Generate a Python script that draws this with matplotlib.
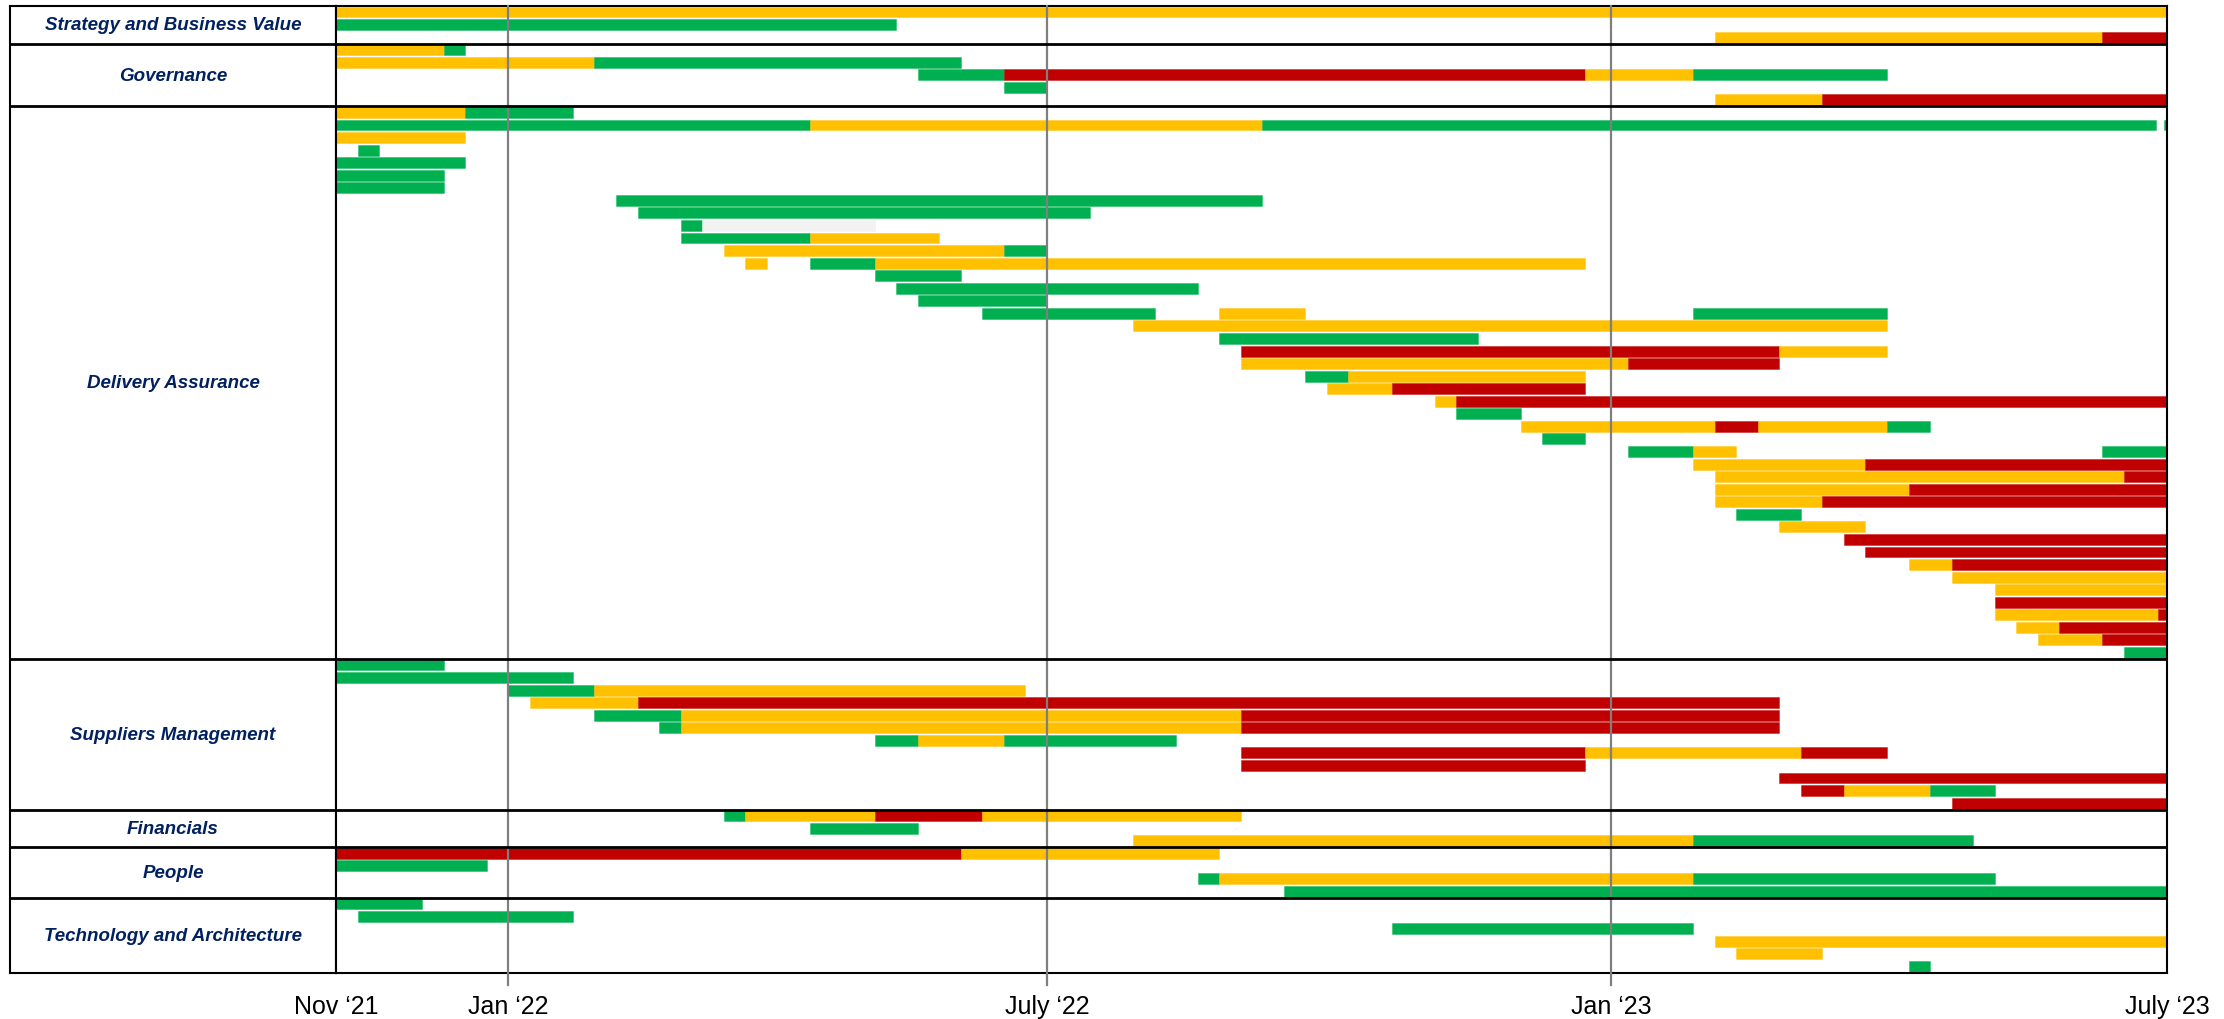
import matplotlib.pyplot as plt
from matplotlib.colors import to_rgba

plt.rcParams['font.family'] = ['Liberation Sans', 'DejaVu Sans']

# RAG status colours
status_colors = {'G': '#00B050', 'A': '#FFC000', 'R': '#C00000', 'N': '#F2F2F2'}

section_names = ['Strategy and Business Value', 'Governance', 'Delivery Assurance',
                 'Suppliers Management', 'Financials', 'People',
                 'Technology and Architecture']

# x axis in weeks from Nov '21
tick_pos = [0, 8, 33, 59.2, 85]
tick_labels = ['Nov \u201821', 'Jan \u201822', 'July \u201822', 'Jan \u201823', 'July \u201823']
grid_pos = [8, 33, 59.2]

# each row: list of (start, end, status)
strategy = [
    [(0, 85, 'A')],
    [(0, 26, 'G')],
    [(64, 82, 'A'), (82, 85, 'R')],
]

governance = [
    [(0, 5, 'A'), (5, 6, 'G')],
    [(0, 12, 'A'), (12, 29, 'G')],
    [(27, 31, 'G'), (31, 58, 'R'), (58, 63, 'A'), (63, 72, 'G')],
    [(31, 33, 'G')],
    [(64, 69, 'A'), (69, 85, 'R')],
]

delivery = [
    [(0, 6, 'A'), (6, 11, 'G')],
    [(0, 22, 'G'), (22, 43, 'A'), (43, 84.5, 'G'), (84.85, 85, 'G')],
    [(0, 6, 'A')],
    [(1, 2, 'G')],
    [(0, 6, 'G')],
    [(0, 5, 'G')],
    [(0, 5, 'G')],
    [(13, 43, 'G')],
    [(14, 35, 'G')],
    [(16, 17, 'G'), (17, 25, 'N')],
    [(16, 22, 'G'), (22, 28, 'A')],
    [(18, 31, 'A'), (31, 33, 'G')],
    [(19, 20, 'A'), (22, 25, 'G'), (25, 58, 'A')],
    [(25, 29, 'G')],
    [(26, 40, 'G')],
    [(27, 33, 'G')],
    [(30, 38, 'G'), (41, 45, 'A'), (63, 72, 'G')],
    [(37, 72, 'A')],
    [(41, 53, 'G')],
    [(42, 67, 'R'), (67, 72, 'A')],
    [(42, 60, 'A'), (60, 67, 'R')],
    [(45, 47, 'G'), (47, 58, 'A')],
    [(46, 49, 'A'), (49, 58, 'R')],
    [(51, 52, 'A'), (52, 85, 'R')],
    [(52, 55, 'G')],
    [(55, 64, 'A'), (64, 66, 'R'), (66, 72, 'A'), (72, 74, 'G')],
    [(56, 58, 'G')],
    [(60, 63, 'G'), (63, 65, 'A'), (82, 85, 'G')],
    [(63, 71, 'A'), (71, 85, 'R')],
    [(64, 83, 'A'), (83, 85, 'R')],
    [(64, 73, 'A'), (73, 85, 'R')],
    [(64, 69, 'A'), (69, 85, 'R')],
    [(65, 68, 'G')],
    [(67, 71, 'A')],
    [(70, 85, 'R')],
    [(71, 85, 'R')],
    [(73, 75, 'A'), (75, 85, 'R')],
    [(75, 85, 'A')],
    [(77, 85, 'A')],
    [(77, 85, 'R')],
    [(77, 84.6, 'A'), (84.6, 85, 'R')],
    [(78, 80, 'A'), (80, 85, 'R')],
    [(79, 82, 'A'), (82, 85, 'R')],
    [(83, 85, 'G')],
]

suppliers = [
    [(0, 5, 'G')],
    [(0, 11, 'G')],
    [(8, 12, 'G'), (12, 32, 'A')],
    [(9, 14, 'A'), (14, 67, 'R')],
    [(12, 16, 'G'), (16, 42, 'A'), (42, 67, 'R')],
    [(15, 16, 'G'), (16, 42, 'A'), (42, 67, 'R')],
    [(25, 27, 'G'), (27, 31, 'A'), (31, 39, 'G')],
    [(42, 58, 'R'), (58, 68, 'A'), (68, 72, 'R')],
    [(42, 58, 'R')],
    [(67, 85, 'R')],
    [(68, 70, 'R'), (70, 74, 'A'), (74, 77, 'G')],
    [(75, 85, 'R')],
]

financials = [
    [(18, 19, 'G'), (19, 25, 'A'), (25, 30, 'R'), (30, 42, 'A')],
    [(22, 27, 'G')],
    [(37, 63, 'A'), (63, 76, 'G')],
]

people = [
    [(0, 29, 'R'), (29, 41, 'A')],
    [(0, 7, 'G')],
    [(40, 41, 'G'), (41, 63, 'A'), (63, 77, 'G')],
    [(44, 85, 'G')],
]

technology = [
    [(0, 4, 'G')],
    [(1, 11, 'G')],
    [(49, 63, 'G')],
    [(64, 85, 'A')],
    [(65, 69, 'A')],
    [(73, 74, 'G')],
]

all_sections = [strategy, governance, delivery, suppliers, financials, people, technology]
n_rows = sum(len(s) for s in all_sections)

W, H = 2224, 1020
fig = plt.figure(figsize=(W / 100, H / 100), dpi=100)
bottom = 46 / H
height = 967 / H
ax_lab = fig.add_axes([10 / W, bottom, 326 / W, height])
ax = fig.add_axes([336 / W, bottom, 1831 / W, height])

row = 0
bounds = []
for name, rows in zip(section_names, all_sections):
    start_row = row
    for segs in rows:
        for s, e, st in segs:
            c = status_colors[st]
            ax.barh(row + 0.04, e - s, left=s, height=0.87, align='edge',
                    color=c, edgecolor=to_rgba(c, 0.45), linewidth=0.6, zorder=2)
        row += 1
    bounds.append(row)
    ax_lab.text(0.5, (start_row + row) / 2, name, ha='center', va='center',
                fontsize=13.5, fontweight='bold', fontstyle='italic', color='#002060')

for b in bounds[:-1]:
    ax.axhline(b, color='black', lw=2, zorder=4)
    ax_lab.axhline(b, color='black', lw=2, zorder=4)

for g in grid_pos:
    ax.axvline(g, ymin=-0.012, ymax=1, color='#7F7F7F', lw=1.6, zorder=3, clip_on=False)

ax.set_xlim(0, 85)
ax.set_ylim(n_rows, 0)
ax.set_yticks([])
ax.set_xticks(tick_pos, tick_labels)
ax.tick_params(axis='x', length=0, pad=15, labelsize=18)

ax_lab.set_xlim(0, 1)
ax_lab.set_ylim(n_rows, 0)
ax_lab.set_xticks([])
ax_lab.set_yticks([])

for a in (ax, ax_lab):
    for sp in a.spines.values():
        sp.set_color('black')
        sp.set_linewidth(1.5)

fig.savefig('out.png', dpi=100, facecolor='white')
